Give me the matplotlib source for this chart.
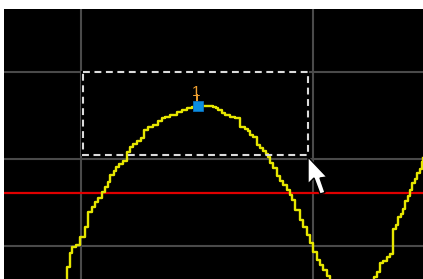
import matplotlib
matplotlib.use("Agg")
import matplotlib.pyplot as plt
from matplotlib.patches import Rectangle, Polygon

# ---- data (screen coordinates of the analyzer display) ----
trace1_x = [67, 67, 70, 72, 76, 80, 85, 88, 92, 95, 98, 102, 105, 108, 110, 114, 116, 119,
            123, 127, 130, 133, 137, 141, 144, 148, 153, 158, 162, 165, 170, 177, 182, 187,
            192, 198, 213, 216, 218, 222, 225, 230, 235, 240, 245, 248, 250, 253, 257, 260,
            263, 266, 268, 270, 273, 277, 280, 283, 287, 290, 292, 295, 300, 303, 307, 310,
            313, 317, 320, 323, 327, 330]
trace1_y = [281, 267, 253, 247, 245, 237, 227, 212, 207, 202, 198, 192, 187, 182, 175, 171,
            167, 164, 161, 152, 147, 144, 141, 138, 130, 127, 125, 121, 118, 117, 115, 112,
            110, 108, 107, 106, 107, 108, 110, 113, 115, 117, 118, 127, 129, 131, 135, 137,
            145, 148, 151, 154, 157, 163, 168, 176, 181, 185, 190, 195, 200, 210, 220, 227,
            235, 243, 252, 260, 265, 270, 276, 281]
trace2_x = [373, 374, 377, 380, 383, 387, 390, 393, 396, 398, 401, 403, 405, 408, 410, 412,
            415, 417, 420, 422, 423]
trace2_y = [281, 277, 272, 263, 261, 257, 254, 229, 225, 217, 214, 209, 201, 196, 190, 183,
            179, 173, 169, 162, 158]
grid_x = [81, 313]
grid_y = [72, 159, 246]
threshold_y = 193
marker_x, marker_y, marker_label = 198, 106, "1"
zoom_box = (83, 72, 308, 155)      # x0, y0, x1, y1
cursor_tip = (308, 157)

W, H = 423, 279
fig = plt.figure(figsize=(W / 100, H / 100), dpi=100, facecolor="white")
ax = fig.add_axes([4 / W, 0, (W - 4) / W, (H - 9) / H])
ax.set_facecolor("black")
ax.set_xlim(4, 423)
ax.set_ylim(279, 9)
for s in ax.spines.values():
    s.set_visible(False)
ax.set_xticks(grid_x)
ax.set_yticks(grid_y)
ax.tick_params(length=0, labelbottom=False, labelleft=False)
ax.grid(True, color="#4a4a4a", lw=1.5)
ax.set_axisbelow(True)

# box interior clears the graticule
x0, y0, x1, y1 = zoom_box
ax.add_patch(Rectangle((x0 - 2.5, y0 - 1.5), x1 - x0 + 3.5, y1 - y0 + 2.5,
                       facecolor="black", edgecolor="none", zorder=1.5))

ax.axhline(threshold_y, color="#e00000", lw=1.6, zorder=2)

ax.plot(trace1_x, trace1_y, drawstyle="steps-post", color="#e6e600", lw=1.7, zorder=3)
ax.plot(trace2_x, trace2_y, drawstyle="steps-post", color="#e6e600", lw=1.7, zorder=3)

ax.add_patch(Rectangle((x0, y0), x1 - x0, y1 - y0, fill=False, edgecolor="#dcdcdc",
                       lw=1.5, linestyle=(0, (3.3, 2.2)), zorder=4))

# marker
ax.plot([marker_x - 1, marker_x - 1], [marker_y - 4, marker_y - 11], color="#f0a030",
        lw=1.4, zorder=5)
ax.text(marker_x - 2.2, marker_y - 9.5, marker_label, color="#f0a030", fontsize=11,
        family="Liberation Sans", ha="center", va="baseline", zorder=5)
ax.plot([marker_x], [marker_y], marker="s", markersize=7.4, color="#0a8ee0",
        markeredgecolor="#0a70c0", markeredgewidth=0.6, zorder=6)

# mouse pointer
tx, ty = cursor_tip
shape = [(0, 0), (0, 27), (6, 21), (12, 37), (17, 35.5), (12, 21), (19, 20)]
ax.add_patch(Polygon([(tx + dx, ty + dy) for dx, dy in shape], closed=True,
                     facecolor="white", edgecolor="black", lw=1.0, zorder=7))

fig.savefig("out.png", dpi=100, facecolor="white")
